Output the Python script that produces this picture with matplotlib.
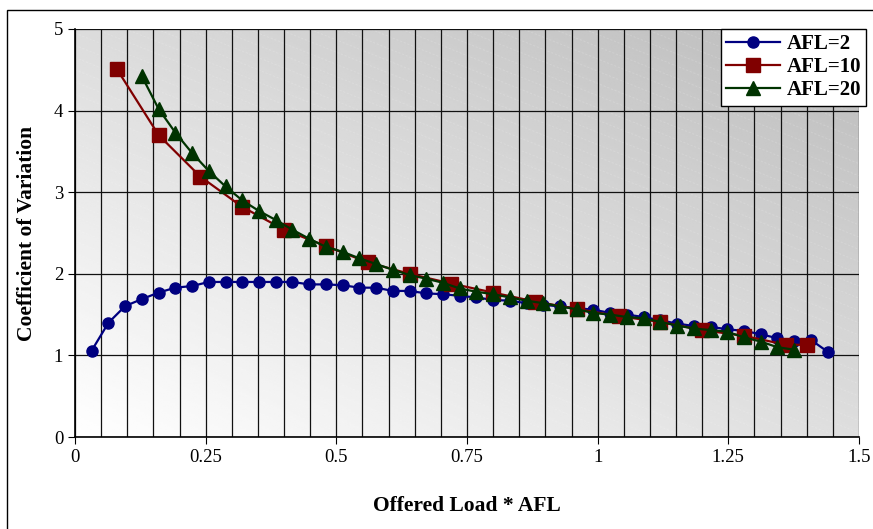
import matplotlib.pyplot as plt
import numpy as np
from matplotlib.patches import Rectangle

plt.rcParams['font.family'] = ['Liberation Serif', 'DejaVu Serif']

# AFL=2: load step 0.032
x_afl2 = [0.032 * k for k in range(1, 46)]
y_afl2 = [1.06, 1.40, 1.605, 1.69, 1.77, 1.83, 1.85, 1.90, 1.90, 1.90,
          1.90, 1.90, 1.90, 1.87, 1.87, 1.86, 1.83, 1.83, 1.79, 1.79,
          1.76, 1.75, 1.73, 1.71, 1.68, 1.67, 1.64, 1.62, 1.60, 1.58,
          1.56, 1.52, 1.50, 1.47, 1.43, 1.39, 1.36, 1.35, 1.32, 1.30,
          1.26, 1.21, 1.18, 1.19, 1.045]

# AFL=10: load step 0.08
x_afl10 = [0.08, 0.16, 0.24, 0.32, 0.40, 0.48, 0.56, 0.64, 0.72, 0.80,
           0.88, 0.96, 1.04, 1.12, 1.20, 1.28, 1.36, 1.40]
y_afl10 = [4.51, 3.70, 3.19, 2.82, 2.54, 2.34, 2.14, 2.00, 1.88, 1.77,
           1.66, 1.57, 1.48, 1.41, 1.31, 1.24, 1.13, 1.13]

# AFL=20: load step 0.032 starting at 0.128
x_afl20 = [0.032 * k for k in range(4, 44)]
y_afl20 = [4.42, 4.02, 3.73, 3.48, 3.26, 3.07, 2.90, 2.77, 2.66, 2.54,
           2.43, 2.33, 2.27, 2.19, 2.12, 2.05, 1.985, 1.94, 1.89, 1.82,
           1.78, 1.75, 1.71, 1.67, 1.64, 1.60, 1.565, 1.52, 1.50, 1.47,
           1.455, 1.41, 1.365, 1.33, 1.31, 1.29, 1.22, 1.17, 1.10, 1.07]

fig = plt.figure(figsize=(8.73, 5.29), dpi=100)
ax = fig.add_axes([75 / 873, 1 - 437 / 529, 784 / 873, 408 / 529])

# grey shading, white in the lower left corner, darkest in the upper right
gx, gy = np.meshgrid(np.linspace(0, 1, 200), np.linspace(0, 1, 200))
shade = 1.0 - (33 * gx + 35 * gy) / 255
ax.imshow(shade, extent=[0, 1.5, 0, 5], origin='lower', aspect='auto',
          cmap='gray', vmin=0, vmax=1, zorder=0, interpolation='bilinear')

# faint diagonal streaks over the shading
for c in np.arange(0.0, 1.8, 0.03):
    ax.plot([0, 1], [c, c - 0.77], transform=ax.transAxes, color='white',
            alpha=0.14, linewidth=0.8, linestyle=(0, (2, 1.5)), zorder=0.5,
            clip_on=True)

ax.set_xlim(0, 1.5)
ax.set_ylim(0, 5)
ax.set_xticks(np.arange(0, 1.51, 0.25))
ax.set_xticklabels(['0', '0.25', '0.5', '0.75', '1', '1.25', '1.5'])
ax.set_yticks(range(6))
ax.set_xticks(np.arange(0, 1.5001, 0.05), minor=True)
ax.tick_params(which='minor', length=0)
ax.tick_params(which='major', length=5, direction='out', labelsize=13.5)
ax.grid(True, which='both', axis='x', color='#111111', linewidth=0.9, zorder=1)
ax.grid(True, which='major', axis='y', color='#111111', linewidth=0.9, zorder=1)
ax.set_axisbelow(True)
for side in ['top', 'right']:
    ax.spines[side].set_visible(False)
ax.spines['left'].set_linewidth(1.2)
ax.spines['bottom'].set_linewidth(1.2)

ax.plot(x_afl2, y_afl2, color='#000080', marker='o', markersize=8,
        linewidth=1.6, label='AFL=2', zorder=3)
ax.plot(x_afl10, y_afl10, color='#800000', marker='s', markersize=10,
        linewidth=1.6, label='AFL=10', zorder=3)
ax.plot(x_afl20, y_afl20, color='#003300', marker='^', markersize=10,
        linewidth=1.6, label='AFL=20', zorder=4)

ax.set_xlabel('Offered Load * AFL', fontsize=15.5, fontweight='bold', labelpad=22)
ax.set_ylabel('Coefficient of Variation', fontsize=15.5, fontweight='bold', labelpad=12)

leg = ax.legend(loc='upper right', bbox_to_anchor=(1.009, 1.0), numpoints=1,
                fancybox=False, framealpha=1, edgecolor='black',
                prop={'weight': 'bold', 'size': 15}, handlelength=2.6,
                borderpad=0.25, labelspacing=0.15, handletextpad=0.3,
                borderaxespad=0)
leg.get_frame().set_linewidth(1.0)

# outer frame around the whole chart
fig.patches.append(Rectangle((7 / 873, -20 / 529), 880 / 873, 539 / 529,
                             transform=fig.transFigure, fill=False,
                             edgecolor='black', linewidth=1.0))

fig.savefig('out.png', dpi=100)
